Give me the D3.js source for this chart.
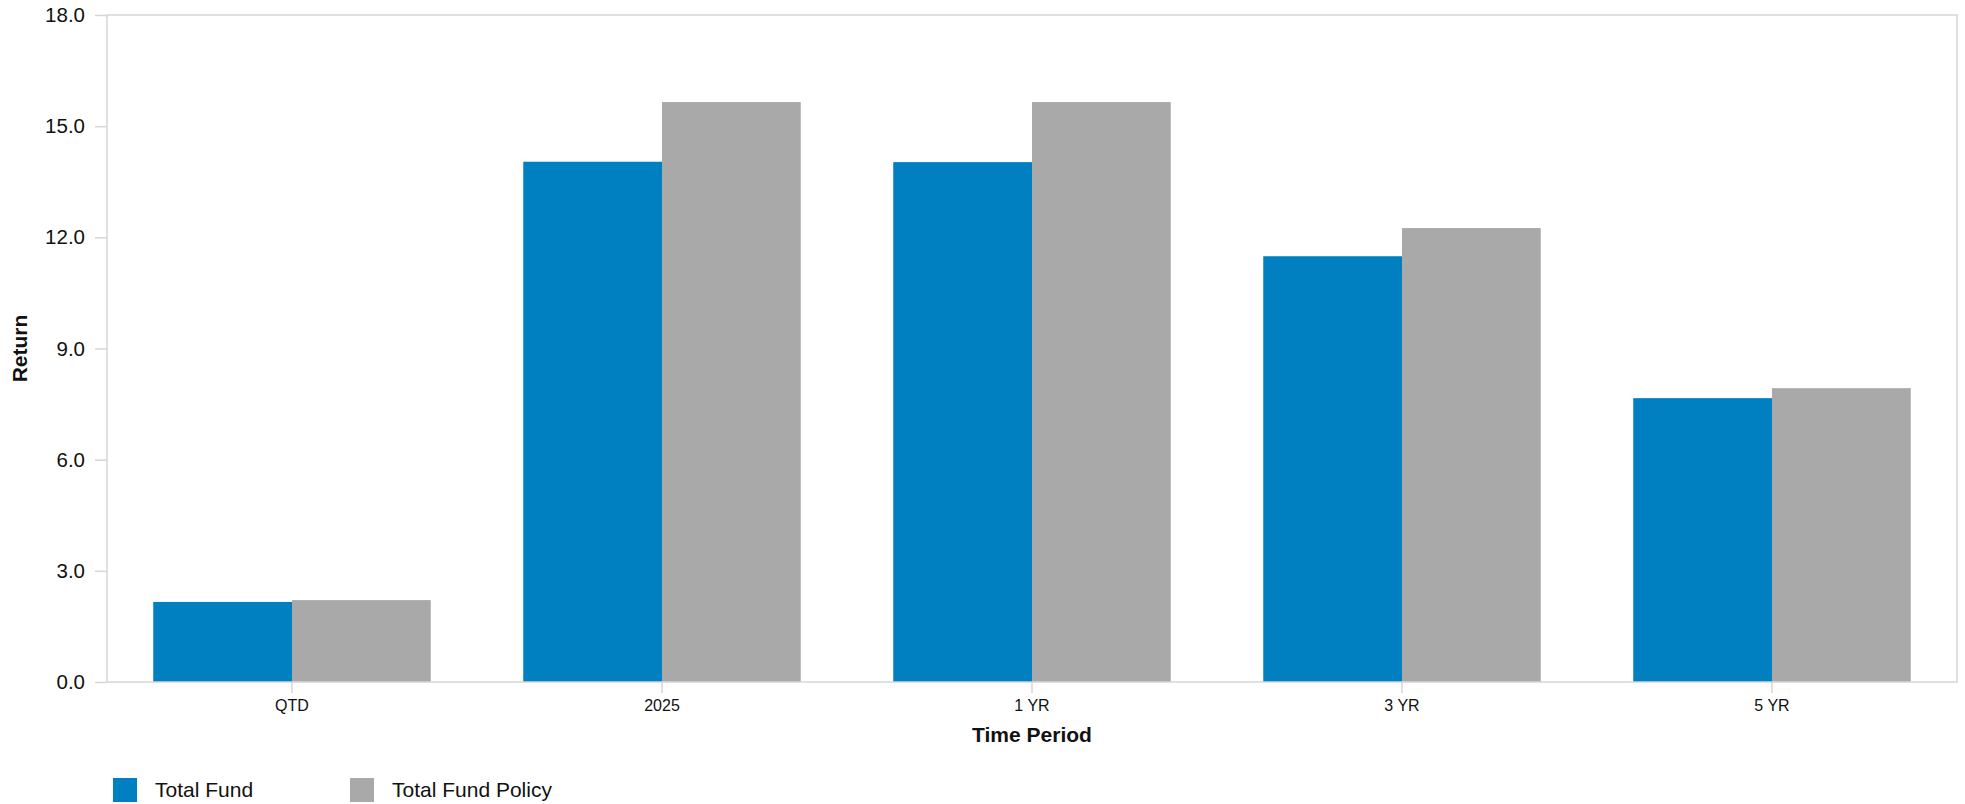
<!DOCTYPE html>
<html>
<head>
<meta charset="utf-8">
<script src="https://cdn.jsdelivr.net/npm/d3@7"></script>
<style>
  html, body { margin: 0; padding: 0; background: #fff; }
  svg { display: block; font-family: Arial, "Liberation Sans", sans-serif; }
</style>
</head>
<body>
<svg id="chart" width="1965" height="804"></svg>
<script>
// Returns by time period
const periods = ["QTD", "2025", "1 YR", "3 YR", "5 YR"];
const seriesNames = ["Total Fund", "Total Fund Policy"];
const totalFund = [2.16, 14.04, 14.03, 11.49, 7.66];
const totalFundPolicy = [2.21, 15.65, 15.65, 12.25, 7.93];
const yTicks = [0, 3, 6, 9, 12, 15, 18];
const seriesColors = ["#0080c1", "#a9a9a9"];

const svg = d3.select("#chart");
const margin = { top: 15, right: 8, bottom: 122, left: 107 };
const width = 1965, height = 804;
const innerW = width - margin.left - margin.right;
const innerH = height - margin.top - margin.bottom;

const g = svg.append("g").attr("transform", `translate(${margin.left},${margin.top})`);

const x0 = d3.scaleBand().domain(periods).range([0, innerW]).paddingInner(0.25).paddingOuter(0.125);
const x1 = d3.scaleBand().domain(seriesNames).range([0, x0.bandwidth()]);
const y = d3.scaleLinear().domain([0, 18]).range([innerH, 0]);

const rows = periods.map((p, i) => ({
  period: p,
  values: [
    { name: seriesNames[0], value: totalFund[i] },
    { name: seriesNames[1], value: totalFundPolicy[i] }
  ]
}));

// Bars
const color = d3.scaleOrdinal().domain(seriesNames).range(seriesColors);
g.selectAll("g.group")
  .data(rows)
  .join("g")
  .attr("class", "group")
  .attr("transform", d => `translate(${x0(d.period)},0)`)
  .selectAll("rect")
  .data(d => d.values)
  .join("rect")
  .attr("x", d => x1(d.name))
  .attr("y", d => y(d.value))
  .attr("width", x1.bandwidth())
  .attr("height", d => innerH - y(d.value))
  .attr("fill", d => color(d.name));

// Plot frame
g.append("rect")
  .attr("x", 0).attr("y", 0)
  .attr("width", innerW).attr("height", innerH)
  .attr("fill", "none")
  .attr("stroke", "#d6d6d6")
  .attr("stroke-width", 1.5);

// Y axis
const yAxis = g.append("g")
  .call(d3.axisLeft(y).tickValues(yTicks).tickFormat(d3.format(".1f")).tickSize(12).tickPadding(10));
yAxis.select(".domain").remove();
yAxis.selectAll(".tick line").attr("stroke", "#d6d6d6").attr("stroke-width", 1.5);
yAxis.selectAll(".tick text").attr("font-size", 20.5).attr("fill", "#111").attr("font-family", "Arial, 'Liberation Sans', sans-serif");

// X axis
const xAxis = g.append("g")
  .attr("transform", `translate(0,${innerH})`)
  .call(d3.axisBottom(x0).tickSize(11).tickPadding(7));
xAxis.select(".domain").remove();
xAxis.selectAll(".tick line").attr("stroke", "#d6d6d6").attr("stroke-width", 1.5);
xAxis.selectAll(".tick text").attr("font-size", 16).attr("fill", "#111").attr("font-family", "Arial, 'Liberation Sans', sans-serif");

// Axis titles
g.append("text")
  .attr("x", innerW / 2)
  .attr("y", innerH + 60)
  .attr("text-anchor", "middle")
  .attr("font-size", 21)
  .attr("font-weight", "bold")
  .attr("fill", "#111")
  .text("Time Period");

svg.append("text")
  .attr("transform", `translate(27,${margin.top + innerH / 2}) rotate(-90)`)
  .attr("text-anchor", "middle")
  .attr("font-size", 21)
  .attr("font-weight", "bold")
  .attr("fill", "#111")
  .text("Return");

// Legend
const legendX = [113, 350];
const legend = svg.append("g").attr("transform", "translate(0,778)");
seriesNames.forEach((name, i) => {
  legend.append("rect")
    .attr("x", legendX[i]).attr("y", 0)
    .attr("width", 24).attr("height", 24)
    .attr("fill", seriesColors[i]);
  legend.append("text")
    .attr("x", legendX[i] + 42)
    .attr("y", 19)
    .attr("font-size", 21)
    .attr("fill", "#111")
    .text(name);
});
</script>
</body>
</html>
